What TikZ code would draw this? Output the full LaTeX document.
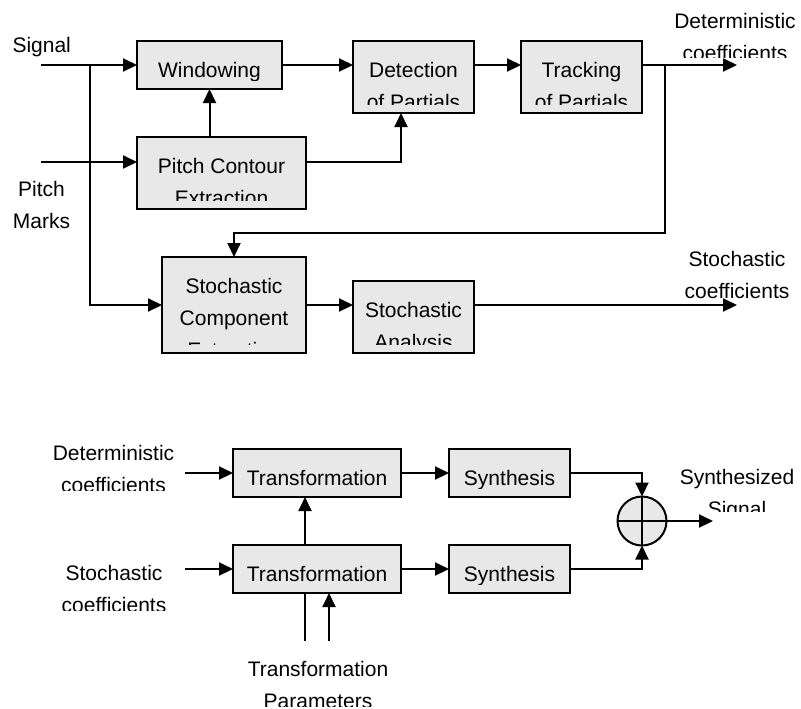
\documentclass[tikz,border=0pt]{standalone}
\usepackage{fontspec}
\setmainfont{Liberation Sans}
\usepackage{tikz}
\usetikzlibrary{arrows.meta,calc}
\tikzset{
  txt/.style  = {font=\fontsize{10.5}{16}\selectfont, align=center, inner sep=0pt},
  blk/.style  = {draw, line width=1pt, fill=black!9, inner sep=0pt, outer sep=0pt,
                 path picture={
                   \clip ([yshift=4.5pt]path picture bounding box.south west)
                     rectangle (path picture bounding box.north east);
                   \node[txt, minimum size=0pt, anchor=north]
                     at ([yshift=-10.7pt]path picture bounding box.north) {#1};}},
  summer/.style = {circle, draw, line width=1pt, fill=black!9, minimum size=24.5pt,
                   inner sep=0pt, outer sep=0pt},
  wire/.style = {line width=1pt},
  flow/.style = {-{Triangle[length=7pt,width=6.5pt]}, line width=1pt},
}

\begin{document}
\begin{tikzpicture}[x=0.5pt, y=-0.5pt]
\useasboundingbox (0,0) rectangle (801,708);
% analysis
\node[blk={Windowing}, minimum width=72.5pt, minimum height=24pt] (win) at (209.5,65) {};
\node[blk={Detection\\of Partials}, minimum width=60.5pt, minimum height=36pt] (det) at (413.5,77) {};
\node[blk={Tracking\\of Partials}, minimum width=60.5pt, minimum height=36pt] (trk) at (581.5,77) {};
\node[blk={Pitch Contour\\Extraction}, minimum width=84.5pt, minimum height=36pt] (pce) at (221.5,173) {};
\node[blk={Stochastic\\Component\\Extraction}, minimum width=72pt, minimum height=48pt] (sce) at (234,305) {};
\node[blk={Stochastic\\Analysis}, minimum width=60.5pt, minimum height=36pt] (san) at (413.5,317) {};
% synthesis
\node[blk={Transformation}, minimum width=84pt, minimum height=24pt] (trd) at (317,473) {};
\node[blk={Transformation}, minimum width=84pt, minimum height=24pt] (trs) at (317,569) {};
\node[blk={Synthesis}, minimum width=60.5pt, minimum height=24pt] (syd) at (509.5,473) {};
\node[blk={Synthesis}, minimum width=60.5pt, minimum height=24pt] (sys) at (509.5,569) {};
\node[summer] (sum) at (642,521) {};
\draw[wire] (sum.north) -- (sum.south) (sum.west) -- (sum.east);

\coordinate (sigin) at (41,65);
\coordinate (sigbr) at (90,65);
\coordinate (pmin) at (41,162);
\coordinate (detout) at (737,65);
\coordinate (trkbr) at (665,65);
\coordinate (stoout) at (737,305);
\coordinate (detin) at (185,473);
\coordinate (stoin) at (185,569);
\coordinate (par1) at (305,641);
\coordinate (par2) at (329,641);
\coordinate (sumout) at (713,521);

% labels (base = last line)
\node[txt, anchor=base] (siglab) at (41.7,52) {Signal};
\begin{scope}
  \clip (0,170) rectangle (85,228);
  \node[txt, anchor=base] (pmlab) at (41.5,228.7) {Pitch\\Marks};
\end{scope}
\begin{scope}
  \clip (670,0) rectangle (801,57.5);
  \node[txt, anchor=base] (dclab) at (735,60.5) {Deterministic\\coefficients};
\end{scope}
\begin{scope}
  \clip (670,240) rectangle (801,298);
  \node[txt, anchor=base] (sclab) at (737,298.7) {Stochastic\\coefficients};
\end{scope}
\begin{scope}
  \clip (40,430) rectangle (185,490);
  \node[txt, anchor=base] (dinlab) at (113.5,492.7) {Deterministic\\coefficients};
\end{scope}
\begin{scope}
  \clip (40,550) rectangle (185,610);
  \node[txt, anchor=base] (sinlab) at (114,612.7) {Stochastic\\coefficients};
\end{scope}
\begin{scope}
  \clip (230,645) rectangle (410,706);
  \node[txt, anchor=base] (parlab) at (318,708.7) {Transformation\\Parameters};
\end{scope}
\begin{scope}
  \clip (670,455) rectangle (801,511.7);
  \node[txt, anchor=base] (outlab) at (737,516) {Synthesized\\Signal};
\end{scope}

% analysis connectors
\draw[flow] (sigin) -- (win.west);
\draw[flow] (sigbr) |- (sce.west);
\draw[flow] (pmin) -- (pmin -| pce.west);
\draw[flow] (pce.north -| win.south) -- (win.south);
\draw[flow] (pce.east |- pmin) -| ([xshift=-6.25pt]det.south);
\draw[flow] (win.east) -- (win.east -| det.west);
\draw[flow] (win.east -| det.east) -- (win.east -| trk.west);
\draw[flow] (win.east -| trk.east) -- (detout);
\draw[flow] (trkbr) -- (trkbr |- 0,233) -| (sce.north);
\draw[flow] (sce.east) -- (sce.east -| san.west);
\draw[flow] (sce.east -| san.east) -- (stoout);
% synthesis connectors
\draw[flow] (detin) -- (trd.west);
\draw[flow] (stoin) -- (trs.west);
\draw[flow] (trs.north -| par1) -- (trd.south -| par1);
\draw[flow] (trd.east) -- (syd.west);
\draw[flow] (trs.east) -- (sys.west);
\draw[wire] (trs.south -| par1) -- (par1);
\draw[flow] (par2) -- (par2 |- trs.south);
\draw[flow] (syd.east) -| (sum.north);
\draw[flow] (sys.east) -| (sum.south);
\draw[flow] (sum.east) -- (sumout);
\end{tikzpicture}
\end{document}
